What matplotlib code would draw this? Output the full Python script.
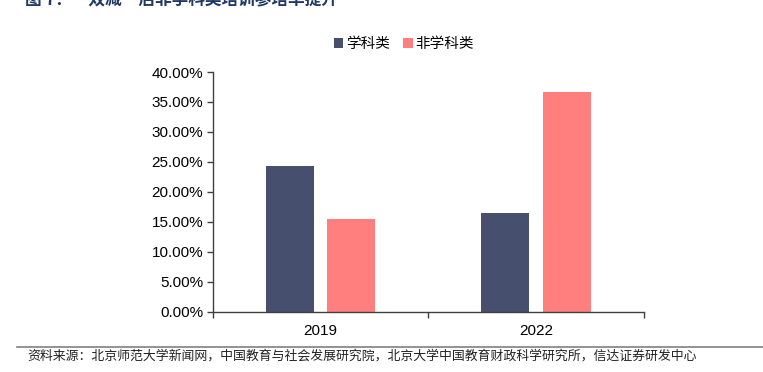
import matplotlib
matplotlib.use("Agg")
import matplotlib.pyplot as plt
import numpy as np
from matplotlib.ticker import FuncFormatter, FixedLocator

plt.rcParams['font.family'] = ['Liberation Sans', 'Noto Sans CJK SC', 'DejaVu Sans']

categories = ["2019", "2022"]
series_names = ["学科类", "非学科类"]
academic = [24.3, 16.4]
non_academic = [15.4, 36.6]
yticks = [0, 5, 10, 15, 20, 25, 30, 35, 40]
title = "图 7：“双减”后非学科类培训参培率提升"
source = "资料来源：北京师范大学新闻网，中国教育与社会发展研究院，北京大学中国教育财政科学研究所，信达证券研发中心"

colors = ["#464F6E", "#FF7F7F"]

fig = plt.figure(figsize=(7.63, 3.72), dpi=100)
ax = fig.add_axes([213/763, 60.5/372, 430.7/763, 239.5/372])

x = np.arange(len(categories))
w = 0.223
off = 0.142
ax.bar(x - off, academic, w, color=colors[0], label=series_names[0])
ax.bar(x + off, non_academic, w, color=colors[1], label=series_names[1])

ax.set_xlim(-0.5, 1.5)
ax.set_ylim(0, 40)
ax.set_yticks(yticks)
ax.yaxis.set_major_formatter(FuncFormatter(lambda v, p: f"{v:.2f}%"))
ax.set_xticks(x)
ax.set_xticklabels(categories)
ax.xaxis.set_minor_locator(FixedLocator([-0.5, 0.5, 1.5]))
ax.tick_params(axis='x', which='major', length=0, pad=9, labelsize=11)
ax.tick_params(axis='x', which='minor', length=4, width=1, color='#404040', direction='out')
ax.tick_params(axis='y', length=4, width=1, color='#404040', labelsize=11, pad=3)
for s in ['top', 'right']:
    ax.spines[s].set_visible(False)
for s in ['left', 'bottom']:
    ax.spines[s].set_color('#404040')
    ax.spines[s].set_linewidth(1)

leg = ax.legend(loc='upper center', bbox_to_anchor=(0.443, 1.2), ncol=2, frameon=False,
                handlelength=0.65, handleheight=0.65, handletextpad=0.2, columnspacing=0.9,
                prop={'family': ['Noto Sans CJK SC'], 'size': 10.5})

fig.text(25/763, 1.0, title, ha='left', va='center', fontsize=12, fontweight='bold',
         color='#1F3864', family=['Noto Sans CJK SC'])

fig.add_artist(plt.Line2D([17/763, 1.0], [1 - 347/372, 1 - 347/372], color='#808080', lw=1.2))
fig.text(27/763, 1 - 356/372, source, ha='left', va='center', fontsize=9.3,
         color='#222222', family=['Noto Sans CJK SC'])

fig.savefig("out.png", dpi=100)
